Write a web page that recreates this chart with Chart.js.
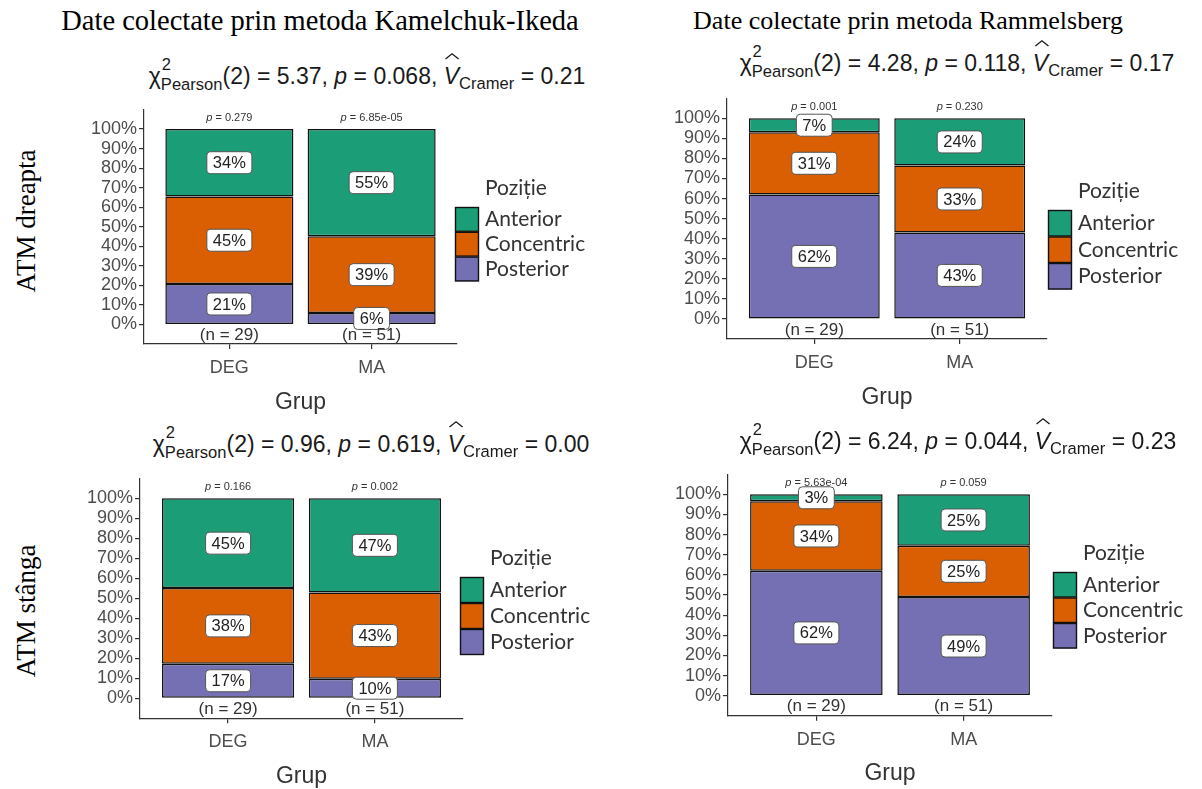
<!DOCTYPE html>
<html>
<head>
<meta charset="utf-8">
<script src="https://cdn.jsdelivr.net/npm/chart.js@4.4.1/dist/chart.umd.min.js"></script>
<style>
  body { margin: 0; background: #fff; width: 1202px; height: 789px; overflow: hidden; position: relative; font-family: 'Liberation Sans', Arial, sans-serif; }
  .heading { position: absolute; font-family: 'Liberation Serif', 'Times New Roman', serif; font-size: 27px; color: #000; white-space: nowrap; transform: translate(-50%, -50%); }
  .rowlabel { position: absolute; font-family: 'Liberation Serif', 'Times New Roman', serif; font-size: 27px; color: #000; white-space: nowrap; transform: translate(-50%, -50%) rotate(-90deg); }
  .stat { position: absolute; font-size: 23px; line-height: 1; white-space: nowrap; transform: translate(-50%, -50%); color: #1a1a1a; }
  .stat .ss { position: relative; top: 0.38em; font-size: 0.72em; }
  .stat .ss .up { position: absolute; left: 0.05em; top: -1.1em; }
  .stat .lo { position: relative; top: 0.3em; font-size: 0.72em; }
  .stat .v { position: relative; font-style: italic; }
  .stat .v svg { position: absolute; left: 0.02em; top: -0.42em; }
  canvas { position: absolute; }
</style>
</head>
<body>
<div class="heading" style="left:320px; top:21px; font-size:28.5px">Date colectate prin metoda Kamelchuk-Ikeda</div>
<div class="heading" style="left:908px; top:21px; font-size:26px">Date colectate prin metoda Rammelsberg</div>
<div class="rowlabel" style="left:26px; top:221px">ATM dreapta</div>
<div class="rowlabel" style="left:26px; top:611px">ATM stânga</div>
<div id="charts"></div>
<script>
// groups on the x axis
const groups = ['DEG', 'MA'];
const groupN = [29, 51];
const yTicks = [0, 10, 20, 30, 40, 50, 60, 70, 80, 90, 100];

// stack order bottom -> top
const positions = ['Posterior', 'Concentric', 'Anterior'];
const positionColors = ['#7570B3', '#D95F02', '#1B9E77'];

// Kamelchuk-Ikeda, ATM dreapta (counts per group)
const kiDreaptaPosterior = [6, 3];
const kiDreaptaConcentric = [13, 20];
const kiDreaptaAnterior = [10, 28];
const kiDreaptaP = ['0.279', '6.85e-05'];

// Rammelsberg, ATM dreapta
const raDreaptaPosterior = [18, 22];
const raDreaptaConcentric = [9, 17];
const raDreaptaAnterior = [2, 12];
const raDreaptaP = ['0.001', '0.230'];

// Kamelchuk-Ikeda, ATM stanga
const kiStangaPosterior = [5, 5];
const kiStangaConcentric = [11, 22];
const kiStangaAnterior = [13, 24];
const kiStangaP = ['0.166', '0.002'];

// Rammelsberg, ATM stanga
const raStangaPosterior = [18, 25];
const raStangaConcentric = [10, 13];
const raStangaAnterior = [1, 13];
const raStangaP = ['5.63e-04', '0.059'];

// chi-square test results per panel
const chiValues = ['5.37', '4.28', '0.96', '6.24'];
const pValues = ['0.068', '0.118', '0.619', '0.044'];
const cramerValues = ['0.21', '0.17', '0.00', '0.23'];

// page layout of each panel (pixels)
const panels = [
  { counts: [kiDreaptaPosterior, kiDreaptaConcentric, kiDreaptaAnterior], pLabels: kiDreaptaP,
    left: 144, right: 457, v100: 129, v0: 324.5, statX: 367, statY: 76, keyX: 455, keyY: 207, keyH: 24.8 },
  { counts: [raDreaptaPosterior, raDreaptaConcentric, raDreaptaAnterior], pLabels: raDreaptaP,
    left: 727, right: 1047, v100: 118.3, v0: 319, statX: 957, statY: 63, keyX: 1048, keyY: 210, keyH: 26.5 },
  { counts: [kiStangaPosterior, kiStangaConcentric, kiStangaAnterior], pLabels: kiStangaP,
    left: 140, right: 463, v100: 498.3, v0: 698.3, statX: 371, statY: 444, keyX: 460, keyY: 577, keyH: 26 },
  { counts: [raStangaPosterior, raStangaConcentric, raStangaAnterior], pLabels: raStangaP,
    left: 728, right: 1052, v100: 494.3, v0: 695.7, statX: 958, statY: 441, keyX: 1053, keyY: 572, keyH: 25.5 }
];

Chart.defaults.font.family = "'Liberation Sans', Arial, sans-serif";

function roundBox(ctx, x, y, w, h, r) {
  ctx.beginPath();
  ctx.moveTo(x + r, y);
  ctx.arcTo(x + w, y, x + w, y + h, r);
  ctx.arcTo(x + w, y + h, x, y + h, r);
  ctx.arcTo(x, y + h, x, y, r);
  ctx.arcTo(x, y, x + w, y, r);
  ctx.closePath();
}

// percentage boxes, (n = ..) and p = .. labels
const barLabels = {
  id: 'barLabels',
  afterDatasetsDraw(chart) {
    const ctx = chart.ctx;
    const y = chart.scales.y;
    const panel = chart.options.plugins.barLabels.panel;
    ctx.save();
    ctx.textAlign = 'center';
    ctx.textBaseline = 'middle';
    chart.data.datasets.forEach((ds, k) => {
      chart.getDatasetMeta(k).data.forEach((bar, i) => {
        const v = ds.data[i].y;
        if (!v) return;
        const text = Math.round(v) + '%';
        const cy = (bar.y + bar.base) / 2;
        ctx.font = '16.5px "Liberation Sans", Arial, sans-serif';
        const w = ctx.measureText(text).width + 12;
        const h = 22;
        roundBox(ctx, bar.x - w / 2, cy - h / 2, w, h, 4);
        ctx.fillStyle = '#fff';
        ctx.fill();
        ctx.lineWidth = 1;
        ctx.strokeStyle = '#555';
        ctx.stroke();
        ctx.fillStyle = '#222';
        ctx.fillText(text, bar.x, cy + 1);
      });
    });
    const meta = chart.getDatasetMeta(0);
    meta.data.forEach((bar, i) => {
      ctx.font = '17px "Liberation Sans", Arial, sans-serif';
      ctx.fillStyle = '#333';
      ctx.textAlign = 'center';
      ctx.fillText('(n = ' + groupN[i] + ')', bar.x, y.getPixelForValue(-5.5));
      // p label: italic p then the value
      const rest = ' = ' + panel.pLabels[i];
      ctx.font = 'italic 11px "Liberation Sans", Arial, sans-serif';
      const pw = ctx.measureText('p').width;
      ctx.font = '11px "Liberation Sans", Arial, sans-serif';
      const rw = ctx.measureText(rest).width;
      const x0 = bar.x - (pw + rw) / 2;
      const py = y.getPixelForValue(105.6);
      ctx.textAlign = 'left';
      ctx.font = 'italic 11px "Liberation Sans", Arial, sans-serif';
      ctx.fillText('p', x0, py);
      ctx.font = '11px "Liberation Sans", Arial, sans-serif';
      ctx.fillText(rest, x0 + pw, py);
    });
    ctx.restore();
  }
};

// ggplot-like legend on the right
const sideLegend = {
  id: 'sideLegend',
  afterDraw(chart) {
    const ctx = chart.ctx;
    const o = chart.options.plugins.sideLegend;
    const panel = o.panel;
    const kx = panel.keyX - o.offX;
    const ky = panel.keyY - o.offY;
    const kw = 24, kh = panel.keyH;
    ctx.save();
    ctx.font = '21px Lato, "Liberation Sans", sans-serif';
    ctx.fillStyle = '#333';
    ctx.textAlign = 'left';
    ctx.textBaseline = 'middle';
    ctx.fillText('Poziție', kx + 30, ky - 19);
    const order = positions.map((p, k) => k).reverse();
    order.forEach((k, j) => {
      const top = ky + j * kh;
      ctx.fillStyle = positionColors[k];
      ctx.fillRect(kx, top, kw, kh);
      ctx.lineWidth = 1.4;
      ctx.strokeStyle = '#111';
      ctx.strokeRect(kx + 0.5, top + 0.5, kw - 1, kh - 1);
      ctx.fillStyle = '#333';
      ctx.fillText(positions[k], kx + 30, top + kh / 2);
    });
    ctx.restore();
  }
};

function statHtml(i) {
  return 'χ<span class="ss"><span class="up">2</span>Pearson</span>(2) = ' + chiValues[i] +
    ', <i>p</i> = ' + pValues[i] + ', <span class="v">V<svg width="0.72em" height="0.32em" viewBox="0 0 20 9">' +
    '<polyline points="2,8 10,1.5 18,8" fill="none" stroke="#1a1a1a" stroke-width="1.6"/></svg></span>' +
    '<span class="lo">Cramer</span> = ' + cramerValues[i];
}

function makeChart(panel, idx) {
  const holder = document.getElementById('charts');
  const u = (panel.v0 - panel.v100) / 100;
  const top = panel.v100 - 10 * u;
  const bottom = panel.v0 + 10 * u;
  const yW = 62, xH = 76, legendW = 150, padTop = 6;
  const cLeft = panel.left - yW;
  const cTop = Math.floor(top) - padTop;
  const cw = panel.right - panel.left + yW + legendW;
  const ch = Math.ceil(bottom - cTop + xH);

  const canvas = document.createElement('canvas');
  canvas.width = cw;
  canvas.height = ch;
  canvas.style.left = cLeft + 'px';
  canvas.style.top = cTop + 'px';
  canvas.style.width = cw + 'px';
  canvas.style.height = ch + 'px';
  holder.appendChild(canvas);

  const stat = document.createElement('div');
  stat.className = 'stat';
  stat.style.left = panel.statX + 'px';
  stat.style.top = panel.statY + 'px';
  stat.innerHTML = statHtml(idx);
  holder.appendChild(stat);

  const datasets = positions.map((name, k) => ({
    label: name,
    data: groups.map((g, i) => ({ x: i + 1, y: panel.counts[k][i] / groupN[i] * 100 })),
    backgroundColor: positionColors[k],
    borderColor: '#111',
    borderWidth: 1.5,
    borderSkipped: false,
    categoryPercentage: 1,
    barPercentage: 0.9
  }));

  // ticks never sit on the scale edges, so drop the label overhang padding
  const noPad = (s) => { s.paddingTop = 0; s.paddingBottom = 0; s.paddingLeft = 0; s.paddingRight = 0; };

  return new Chart(canvas, {
    type: 'bar',
    data: { datasets },
    options: {
      responsive: false,
      animation: false,
      devicePixelRatio: 1,
      layout: { padding: { top: top - cTop, right: legendW, left: 0, bottom: ch - xH - (bottom - cTop) } },
      plugins: {
        legend: { display: false },
        tooltip: { enabled: false },
        barLabels: { panel },
        sideLegend: { panel, offX: cLeft, offY: cTop }
      },
      scales: {
        x: {
          type: 'linear',
          stacked: true,
          min: 0.4,
          max: 2.6,
          offset: false,
          afterBuildTicks: (s) => { s.ticks = groups.map((g, i) => ({ value: i + 1 })); },
          afterFit: (s) => { s.height = xH; noPad(s); },
          ticks: {
            autoSkip: false,
            padding: 8,
            color: '#4d4d4d',
            font: { size: 18 },
            callback: (v) => groups[Math.round(v) - 1] || ''
          },
          grid: { drawOnChartArea: false, drawTicks: true, tickLength: 5, tickColor: '#333', lineWidth: 1.2, offset: false },
          border: { display: true, color: '#333', width: 1.2 },
          title: { display: true, text: 'Grup', color: '#333', font: { size: 23 }, padding: { top: 4, bottom: 4 } }
        },
        y: {
          stacked: true,
          min: -10,
          max: 110,
          afterBuildTicks: (s) => { s.ticks = yTicks.map(v => ({ value: v })); },
          afterFit: (s) => { s.width = yW; noPad(s); },
          ticks: {
            autoSkip: false,
            padding: 2,
            color: '#4d4d4d',
            font: { size: 18 },
            callback: (v) => v + '%'
          },
          grid: { drawOnChartArea: false, drawTicks: true, tickLength: 5, tickColor: '#333', lineWidth: 1.2 },
          border: { display: true, color: '#333', width: 1.2 }
        }
      }
    },
    plugins: [barLabels, sideLegend]
  });
}

let charts = [];
document.addEventListener('DOMContentLoaded', () => {
  charts = panels.map((p, i) => makeChart(p, i));
});
</script>
</body>
</html>
